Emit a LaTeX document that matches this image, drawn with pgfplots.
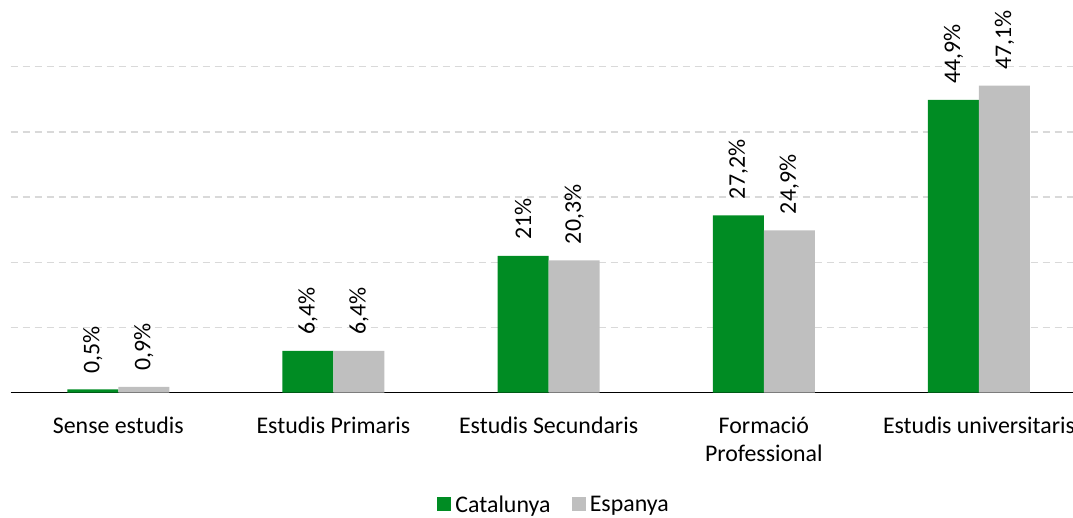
\documentclass[border=0pt]{standalone}
\usepackage{pgfplots}
\pgfplotsset{compat=1.18}
\usepackage{fontspec}
\setmainfont{Carlito}
\definecolor{cat}{HTML}{008C23}
\definecolor{esp}{HTML}{BFBFBF}
\definecolor{grd}{HTML}{D9D9D9}
\begin{document}
\begin{tikzpicture}[font=\fontsize{17.9}{21}\selectfont]
\useasboundingbox (-8.025pt,-93.225pt) rectangle (796.725pt,294.525pt);
\begin{scope}
\clip (-8.025pt,-93.225pt) rectangle (796.725pt,294.525pt);
\begin{axis}[
  at={(0pt,0pt)}, anchor=south west, scale only axis,
  width=806.9pt, height=244.5pt,
  ymin=0, ymax=50, xmin=-0.5, xmax=4.5,
  ybar=0pt, bar width=38.25pt,
  axis line style={draw=none},
  major tick length=0pt,
  ytick={10,20,30,40,50}, yticklabels={},
  ymajorgrids,
  major grid style={grd, dash pattern=on 5.25pt off 3.75pt, line width=1.1pt},
  extra y ticks={0}, extra y tick labels={},
  extra y tick style={grid=major, major grid style={black, solid, line width=1pt}},
  xtick={0,1,2,3,4},
  xticklabels={Sense estudis, Estudis Primaris, Estudis Secundaris, {Formació\\Professional}, Estudis universitaris},
  xticklabel style={align=center, inner sep=0pt, yshift=-18pt, text=black},
  clip=false,
  /pgf/number format/assume math mode=true,
  /pgf/number format/use comma,
  nodes near coords={\pgfmathprintnumber{\pgfplotspointmeta}\%},
  every node near coord/.append style={rotate=90, anchor=west, inner sep=0pt, inner xsep=12pt, text=black},
  legend columns=2,
  legend style={at={(0.506,-0.344)}, anchor=center, draw=none, fill=none,
    /tikz/every even column/.append style={column sep=13pt},
    nodes={inner xsep=3pt, inner ysep=0pt}},
]
\addplot[fill=cat, draw=none, legend image code/.code={\fill[cat] (0pt,-4.5pt) rectangle (10.5pt,6pt);}]
  coordinates {(0,0.5) (1,6.4) (2,21) (3,27.2) (4,44.9)};
\addplot[fill=esp, draw=none, legend image code/.code={\fill[esp] (0pt,-4.5pt) rectangle (10.5pt,6pt);}]
  coordinates {(0,0.9) (1,6.4) (2,20.3) (3,24.9) (4,47.1)};
\legend{Catalunya, Espanya}
\end{axis}
\end{scope}
\end{tikzpicture}
\end{document}
